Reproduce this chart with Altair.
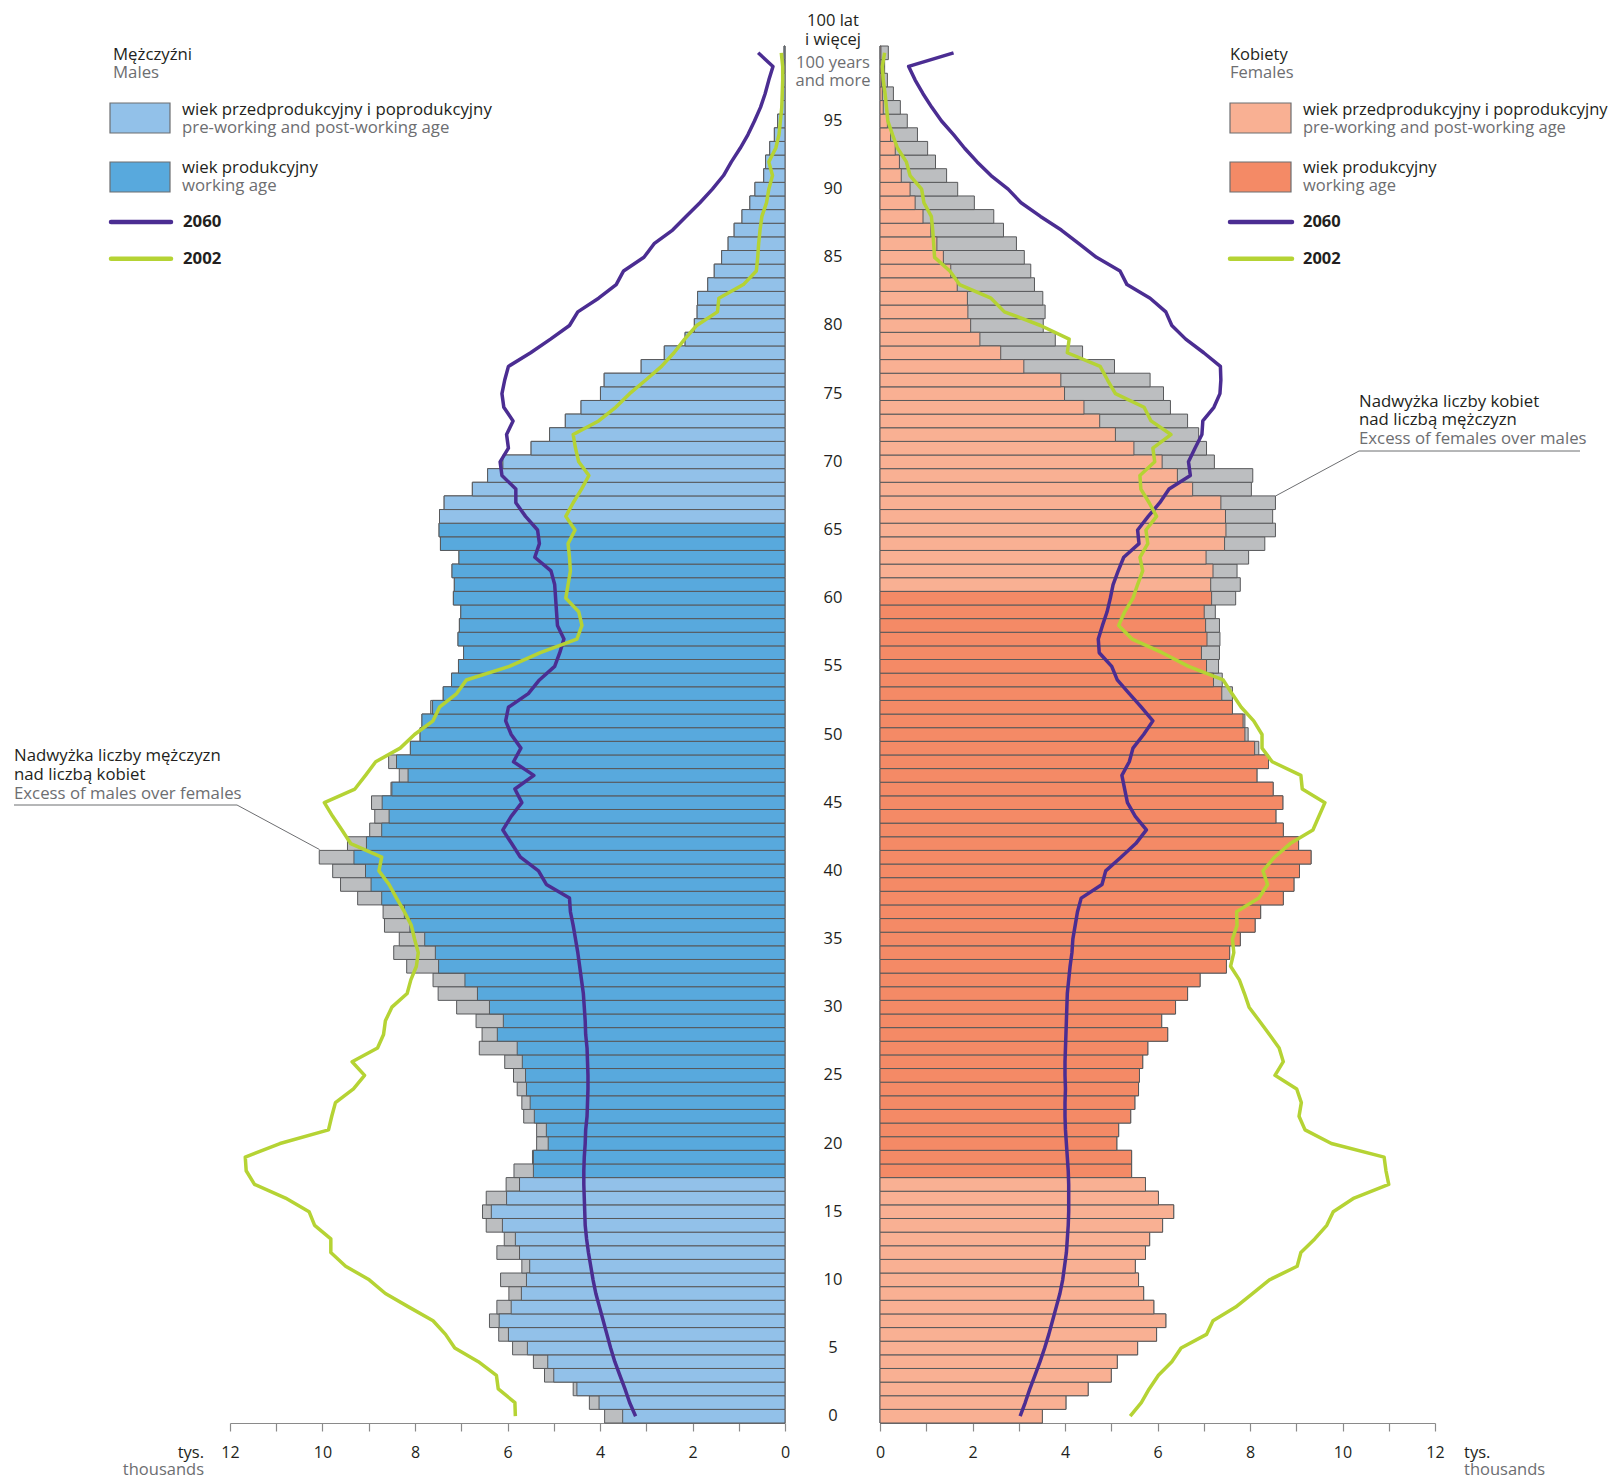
import altair as alt
import pandas as pd
import numpy as np

# ---------------- data (thousands of persons, by single year of age) ----------------
AGES = list(range(0, 101))

MALES = [3.90, 4.23, 4.58, 5.20, 5.44, 5.89, 6.19, 6.39, 6.23, 5.97,
         6.15, 5.69, 6.23, 6.07, 6.46, 6.54, 6.46, 6.03, 5.86, 5.46,
         5.37, 5.37, 5.65, 5.69, 5.79, 5.87, 6.06, 6.61, 6.55, 6.68,
         7.10, 7.50, 7.61, 8.18, 8.46, 8.34, 8.66, 8.69, 9.24, 9.61,
         9.78, 10.07, 9.46, 8.98, 8.87, 8.94, 8.52, 8.34, 8.57, 8.10,
         7.89, 7.85, 7.66, 7.39, 7.21, 7.06, 6.95, 7.07, 7.04, 7.01,
         7.17, 7.15, 7.20, 7.05, 7.45, 7.48, 7.47, 7.37, 6.76, 6.43,
         6.10, 5.49, 5.09, 4.75, 4.41, 3.99, 3.91, 3.11, 2.61, 2.16,
         1.96, 1.90, 1.89, 1.67, 1.53, 1.37, 1.23, 1.10, 0.93, 0.76,
         0.65, 0.46, 0.42, 0.33, 0.23, 0.16, 0.07, 0.05, 0.03, 0.02,
         0.02]

FEMALES = [3.51, 4.02, 4.50, 5.00, 5.13, 5.57, 5.98, 6.18, 5.92, 5.70,
           5.59, 5.52, 5.74, 5.83, 6.11, 6.35, 6.02, 5.74, 5.44, 5.44,
           5.12, 5.16, 5.42, 5.51, 5.59, 5.61, 5.68, 5.79, 6.22, 6.09,
           6.39, 6.65, 6.92, 7.49, 7.56, 7.79, 8.11, 8.23, 8.72, 8.95,
           9.07, 9.32, 9.05, 8.72, 8.56, 8.71, 8.50, 8.15, 8.40, 8.19,
           7.96, 7.89, 7.62, 7.62, 7.40, 7.32, 7.34, 7.35, 7.34, 7.25,
           7.69, 7.79, 7.72, 7.97, 8.32, 8.55, 8.49, 8.55, 8.03, 8.06,
           7.23, 7.06, 6.89, 6.65, 6.28, 6.13, 5.84, 5.07, 4.38, 3.79,
           3.53, 3.57, 3.52, 3.34, 3.26, 3.12, 2.95, 2.67, 2.46, 2.04,
           1.68, 1.44, 1.20, 1.03, 0.81, 0.59, 0.44, 0.29, 0.16, 0.10,
           0.18]

MALES_2060 = [3.23, 3.36, 3.46, 3.57, 3.68, 3.77, 3.85, 3.93, 4.01, 4.09,
              4.15, 4.20, 4.25, 4.29, 4.32, 4.33, 4.34, 4.35, 4.35, 4.34,
              4.32, 4.31, 4.28, 4.27, 4.26, 4.26, 4.27, 4.28, 4.31, 4.32,
              4.34, 4.36, 4.40, 4.44, 4.48, 4.53, 4.58, 4.64, 4.66, 5.16,
              5.33, 5.72, 5.91, 6.10, 5.92, 5.69, 5.84, 5.43, 5.87, 5.71,
              5.92, 6.04, 5.98, 5.55, 5.31, 4.98, 4.87, 4.78, 4.92, 4.94,
              4.96, 4.98, 5.06, 5.41, 5.31, 5.35, 5.61, 5.82, 5.82, 6.12,
              6.16, 5.98, 6.02, 5.88, 6.08, 6.12, 6.06, 5.98, 5.50, 5.07,
              4.66, 4.48, 4.03, 3.65, 3.49, 3.05, 2.83, 2.43, 2.14, 1.84,
              1.57, 1.33, 1.16, 0.97, 0.80, 0.66, 0.53, 0.43, 0.35, 0.26,
              0.58]

MALES_2002 = [5.83, 5.84, 6.20, 6.24, 6.63, 7.14, 7.34, 7.61, 8.13, 8.64,
              8.99, 9.50, 9.82, 9.82, 10.17, 10.29, 10.80, 11.47, 11.65, 11.67,
              10.92, 9.87, 9.80, 9.72, 9.33, 9.09, 9.36, 8.81, 8.68, 8.64,
              8.50, 8.17, 8.09, 7.97, 7.93, 8.01, 8.08, 8.23, 8.40, 8.56,
              8.78, 8.72, 9.39, 9.58, 9.78, 9.96, 9.30, 9.07, 8.85, 8.32,
              8.01, 7.61, 7.47, 7.10, 6.89, 5.96, 5.29, 4.50, 4.39, 4.46,
              4.74, 4.69, 4.64, 4.66, 4.69, 4.54, 4.74, 4.58, 4.40, 4.24,
              4.46, 4.53, 4.58, 4.03, 3.66, 3.36, 3.01, 2.67, 2.40, 2.17,
              1.91, 1.46, 1.43, 0.90, 0.62, 0.59, 0.57, 0.54, 0.50, 0.40,
              0.35, 0.27, 0.35, 0.20, 0.13, 0.10, 0.07, 0.06, 0.05, 0.05,
              0.08]

FEMALES_2060 = [3.03, 3.14, 3.24, 3.35, 3.46, 3.56, 3.65, 3.73, 3.81, 3.89,
                3.95, 3.99, 4.03, 4.05, 4.07, 4.08, 4.08, 4.08, 4.07, 4.05,
                4.03, 4.01, 4.00, 4.00, 4.01, 4.00, 4.00, 4.01, 4.02, 4.03,
                4.04, 4.05, 4.08, 4.11, 4.15, 4.17, 4.22, 4.27, 4.35, 4.80,
                4.88, 5.21, 5.53, 5.76, 5.52, 5.35, 5.29, 5.23, 5.39, 5.47,
                5.70, 5.90, 5.65, 5.39, 5.13, 5.01, 4.74, 4.72, 4.81, 4.91,
                4.98, 5.04, 5.15, 5.27, 5.60, 5.57, 5.80, 6.05, 6.25, 6.71,
                6.67, 6.81, 6.96, 6.98, 7.22, 7.35, 7.37, 7.36, 7.00, 6.61,
                6.31, 6.18, 5.84, 5.34, 5.19, 4.68, 4.30, 3.92, 3.47, 3.05,
                2.77, 2.40, 2.10, 1.83, 1.59, 1.33, 1.12, 0.93, 0.76, 0.62,
                1.59]

FEMALES_2002 = [5.41, 5.65, 5.82, 6.02, 6.31, 6.51, 7.06, 7.20, 7.69, 8.06,
                8.42, 9.02, 9.10, 9.40, 9.66, 9.80, 10.25, 11.00, 10.94, 10.90,
                9.76, 9.19, 9.06, 9.11, 9.01, 8.54, 8.72, 8.63, 8.42, 8.20,
                7.98, 7.88, 7.77, 7.58, 7.65, 7.62, 7.72, 7.71, 8.19, 8.38,
                8.28, 8.53, 8.87, 9.36, 9.49, 9.62, 9.13, 9.10, 8.48, 8.26,
                8.26, 8.08, 7.81, 7.61, 7.42, 6.67, 6.10, 5.45, 5.16, 5.29,
                5.47, 5.57, 5.68, 5.62, 5.79, 5.75, 5.98, 5.82, 5.64, 5.62,
                5.94, 5.90, 6.29, 5.86, 5.71, 5.09, 4.92, 4.76, 4.05, 4.09,
                3.47, 2.69, 2.40, 1.72, 1.51, 1.18, 1.16, 1.14, 1.11, 0.95,
                0.90, 0.65, 0.57, 0.38, 0.27, 0.17, 0.14, 0.11, 0.07, 0.05,
                0.10]

MALE_WORKING = (18, 65)
FEMALE_WORKING = (18, 60)
AGE_LABELS = list(range(0, 100, 5))
X_TICKS = list(range(0, 13))

# ---------------- styles ----------------
FONT = "Open Sans"
DARK = "#231f20"
GRAY = "#6d6e71"
EXCESS = "#bcbec0"
OUTLINE = "#58595b"
M_COLORS = ["#92c1e9", "#58a9dd"]
F_COLORS = ["#f9b093", "#f48a66"]
GROUPS = ["m_other", "m_work", "f_other", "f_work"]
GROUP_COLORS = M_COLORS + F_COLORS
C2060 = "#4b2d92"
C2002 = "#b5d334"
W, H = 555, 1377
TS = 16.8   # annotation / legend text size
TSR = 16.5  # right-hand legend text size (kept inside the page)

df = pd.DataFrame({
    "age": AGES, "males": MALES, "females": FEMALES,
    "m2060": MALES_2060, "m2002": MALES_2002,
    "f2060": FEMALES_2060, "f2002": FEMALES_2002,
})
df["lo"] = df["age"] - 0.5
df["hi"] = df["age"] + 0.5
df["zero"] = 0.0
df["common"] = df[["males", "females"]].min(axis=1)
df["m_group"] = np.where((df["age"] >= MALE_WORKING[0]) & (df["age"] <= MALE_WORKING[1]), "m_work", "m_other")
df["f_group"] = np.where((df["age"] >= FEMALE_WORKING[0]) & (df["age"] <= FEMALE_WORKING[1]), "f_work", "f_other")

yscale = alt.Scale(domain=[-0.5, 100.5], nice=False, zero=False)
fillscale = alt.Scale(domain=GROUPS, range=GROUP_COLORS)


def xaxis():
    return alt.Axis(values=X_TICKS, labelExpr="datum.value % 2 == 0 ? datum.label : ''",
                    tickSize=8, tickColor="#8a8a8a", domainColor="#8a8a8a", tickWidth=1.2,
                    domainWidth=1.2, labelFontSize=16, labelFont=FONT, labelColor=DARK,
                    labelPadding=13, grid=False, title=None, labelFlush=False)


def one():
    return pd.DataFrame({"k": [0]})


def label(text, x, y, color=DARK, size=TS, weight="normal", align="left"):
    return alt.Chart(one()).mark_text(font=FONT, fontSize=size, fontWeight=weight, color=color,
                                      align=align, baseline="middle").encode(
        x=alt.value(x), y=alt.value(y), text=alt.value(text))


def seg(x1, y1, x2, y2, color, width, cap="butt"):
    return alt.Chart(one()).mark_rule(color=color, strokeWidth=width, strokeCap=cap).encode(
        x=alt.value(x1), y=alt.value(y1), x2=alt.value(x2), y2=alt.value(y2))


def box(x1, y1, x2, y2, fill):
    return alt.Chart(one()).mark_rect(fill=fill, stroke=GRAY, strokeWidth=1.2).encode(
        x=alt.value(x1), y=alt.value(y1), x2=alt.value(x2), y2=alt.value(y2))


def panel(total_field, group_field, f60, f02, reverse):
    xs = alt.Scale(domain=[0, 12], nice=False, zero=False, reverse=reverse)
    base = alt.Chart(df)
    excess = base.mark_rect(fill=EXCESS, stroke=OUTLINE, strokeWidth=1).encode(
        x=alt.X("zero:Q", scale=xs, axis=xaxis()), x2=f"{total_field}:Q",
        y=alt.Y("lo:Q", scale=yscale, axis=None), y2="hi:Q")
    common = base.mark_rect(stroke=OUTLINE, strokeWidth=1).encode(
        x=alt.X("zero:Q", scale=xs, axis=xaxis()), x2="common:Q",
        y=alt.Y("lo:Q", scale=yscale, axis=None), y2="hi:Q",
        fill=alt.Fill(f"{group_field}:N", scale=fillscale, legend=None))
    l60 = base.mark_line(color=C2060, strokeWidth=3.5, strokeJoin="round").encode(
        x=alt.X(f"{f60}:Q", scale=xs, axis=xaxis()), y=alt.Y("age:Q", scale=yscale, axis=None), order="age:Q")
    l02 = base.mark_line(color=C2002, strokeWidth=3.5, strokeJoin="round").encode(
        x=alt.X(f"{f02}:Q", scale=xs, axis=xaxis()), y=alt.Y("age:Q", scale=yscale, axis=None), order="age:Q")
    return [excess, common, l60, l02]


# ---------------- left panel (males) ----------------
left_layers = panel("males", "m_group", "m2060", "m2002", True)
left_layers += [
    label("Mężczyźni", -117, 9),
    label("Males", -117, 27, GRAY),
    box(-120, 57, -60, 87, M_COLORS[0]),
    label("wiek przedprodukcyjny i poprodukcyjny", -48, 64),
    label("pre-working and post-working age", -48, 82, GRAY),
    box(-120, 116, -60, 146, M_COLORS[1]),
    label("wiek produkcyjny", -48, 122),
    label("working age", -48, 140, GRAY),
    seg(-119, 176, -59, 176, C2060, 4.5, "round"),
    label("2060", -47, 176, weight="bold"),
    seg(-119, 212.7, -59, 212.7, C2002, 4.5, "round"),
    label("2002", -47, 212.7, weight="bold"),
    label("Nadwyżka liczby mężczyzn", -216, 710),
    label("nad liczbą kobiet", -216, 729.3),
    label("Excess of males over females", -216, 748.3, GRAY),
    seg(-216, 759, 7, 759, GRAY, 1),
    seg(7, 759, 89.5, 803.5, GRAY, 1),
    label("tys.", -26, 1407, size=16.5, align="right"),
    label("thousands", -26, 1424, GRAY, size=16.5, align="right"),
]
left = alt.layer(*left_layers).properties(width=W, height=H)

# ---------------- right panel (females) ----------------
ages_df = pd.DataFrame({"age": AGE_LABELS})
age_text = alt.Chart(ages_df).mark_text(font=FONT, fontSize=16.5, color=DARK, align="center",
                                        baseline="middle").encode(
    x=alt.value(-47), y=alt.Y("age:Q", scale=yscale, axis=None), text="age:Q")

right_layers = panel("females", "f_group", "f2060", "f2002", False)
right_layers += [
    age_text,
    label("100 lat", -47, -25, size=16.5, align="center"),
    label("i więcej", -47, -6, size=16.5, align="center"),
    label("100 years", -47, 17, GRAY, size=16.5, align="center"),
    label("and more", -47, 35, GRAY, size=16.5, align="center"),
    label("Kobiety", 350, 9, size=TSR),
    label("Females", 350, 27, GRAY, size=TSR),
    box(350, 57, 411, 87, F_COLORS[0]),
    label("wiek przedprodukcyjny i poprodukcyjny", 423, 64, size=TSR),
    label("pre-working and post-working age", 423, 82, GRAY, size=TSR),
    box(350, 116, 411, 146, F_COLORS[1]),
    label("wiek produkcyjny", 423, 122, size=TSR),
    label("working age", 423, 140, GRAY, size=TSR),
    seg(350, 176, 412, 176, C2060, 4.5, "round"),
    label("2060", 423, 176, size=TSR, weight="bold"),
    seg(350, 212.7, 412, 212.7, C2002, 4.5, "round"),
    label("2002", 423, 212.7, size=TSR, weight="bold"),
    label("Nadwyżka liczby kobiet", 479, 355.7),
    label("nad liczbą mężczyzn", 479, 374.3),
    label("Excess of females over males", 479, 393.3, GRAY),
    seg(479, 405, 700, 405, GRAY, 1),
    seg(479, 405, 395.5, 450, GRAY, 1),
    label("tys.", 584, 1407, size=16.5),
    label("thousands", 584, 1424, GRAY, size=16.5),
]
right = alt.layer(*right_layers).properties(width=W, height=H)

chart = alt.hconcat(left, right, spacing=95, bounds="flush").properties(
    padding={"left": 5, "top": 5, "right": 0, "bottom": 3}
).configure_view(stroke=None)

chart.save("out.html", embed_options={"renderer": "svg", "actions": False})
